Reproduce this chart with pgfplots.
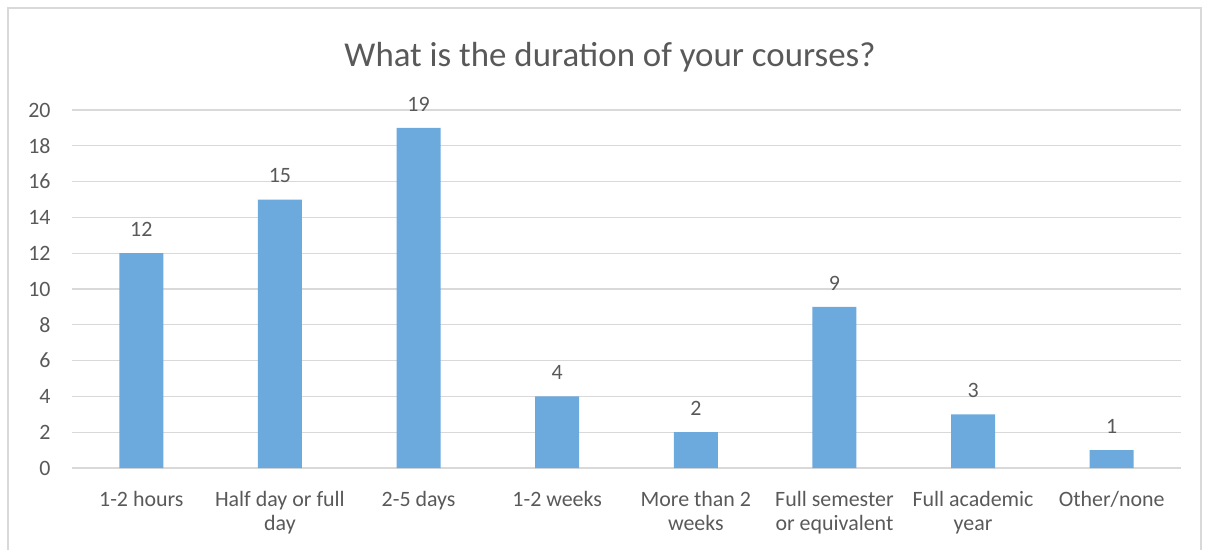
\documentclass[border=0pt]{standalone}
\usepackage{fontspec}
\setmainfont{Carlito}
\usepackage{pgfplots}
\pgfplotsset{compat=1.18}
\definecolor{barblue}{HTML}{6CA9DD}
\definecolor{txtgray}{HTML}{595959}
\definecolor{gridgray}{HTML}{D9D9D9}
\newcommand{\lblfont}{\fontsize{22}{24}\selectfont}
\begin{document}
\begin{tikzpicture}[x=1bp,y=1bp]
\useasboundingbox (0,0) rectangle (1209,-550);
\draw[gridgray, line width=1.5bp] (8,-550) -- (8,-8) -- (1201,-8) -- (1201,-550);
\node[txtgray, font=\fontsize{35}{40}\selectfont] at (610,-57) {What is the duration of your courses?};
\begin{axis}[
  at={(72bp,-468bp)}, anchor=south west,
  scale only axis, width=1109bp, height=358bp,
  xmin=-0.5, xmax=7.5, ymin=0, ymax=20,
  ybar, bar width=44bp,
  axis line style={draw=none},
  tick style={draw=none},
  ytick={0,2,...,20},
  ymajorgrids=true,
  grid style={gridgray, line width=1.2bp},
  xtick={0,...,7},
  xticklabels={1-2 hours, Half day or full\\day, 2-5 days, 1-2 weeks,
    More than 2\\weeks, Full semester\\or equivalent, Full academic\\year, Other/none},
  xticklabel style={align=center, font=\lblfont, text=txtgray, yshift=-16bp},
  yticklabel style={font=\lblfont, text=txtgray, xshift=-18bp},
  /pgf/number format/assume math mode=true,
  nodes near coords,
  nodes near coords style={font=\lblfont, text=txtgray, yshift=13bp},
  clip=false,
]
\addplot[fill=barblue, draw=none] coordinates {
  (0,12) (1,15) (2,19) (3,4) (4,2) (5,9) (6,3) (7,1)
};
\end{axis}
\end{tikzpicture}
\end{document}
